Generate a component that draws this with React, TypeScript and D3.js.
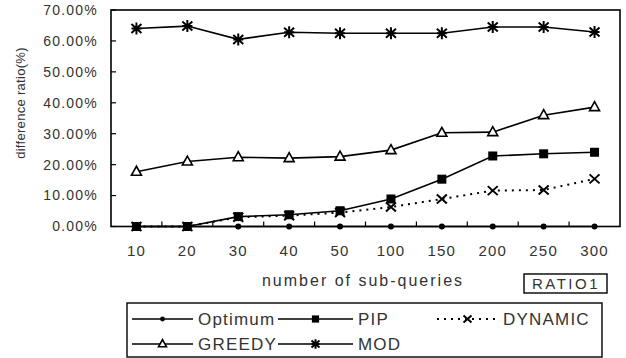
import React from "react";
import * as d3 from "d3";

const categories = ["10", "20", "30", "40", "50", "100", "150", "200", "250", "300"];
const optimum = [0, 0, 0, 0, 0, 0, 0, 0, 0, 0];
const pip = [0, 0, 3.2, 3.8, 5.1, 8.9, 15.3, 22.8, 23.5, 24.0];
const dynamic = [0, 0, 3.0, 3.5, 4.5, 6.3, 8.9, 11.6, 11.8, 15.4];
const greedy = [17.7, 21.0, 22.4, 22.1, 22.6, 24.7, 30.3, 30.5, 36.0, 38.6];
const mod = [64.0, 64.8, 60.5, 62.8, 62.5, 62.5, 62.5, 64.5, 64.5, 62.9];
const yTicks = [0, 10, 20, 30, 40, 50, 60, 70];

const W = 626;
const H = 358;
const left = 111;
const right = 620;
const top = 10;
const bottom = 226.5;

const font = "'Liberation Sans', Arial, sans-serif";
const textColor = "#333";

type MarkerKind = "circle" | "square" | "cross" | "triangle" | "star";

function Marker({ kind, x, y, s = 1 }: { kind: MarkerKind; x: number; y: number; s?: number }) {
  switch (kind) {
    case "circle":
      return <circle cx={x} cy={y} r={3 * s} fill="#000" />;
    case "square":
      return <rect x={x - 4.5 * s} y={y - 4.5 * s} width={9 * s} height={9 * s} fill="#000" />;
    case "cross":
      return (
        <path
          d={`M${x - 5 * s},${y - 4.5 * s}L${x + 5 * s},${y + 4.5 * s}M${x - 5 * s},${y + 4.5 * s}L${x + 5 * s},${y - 4.5 * s}`}
          stroke="#000"
          strokeWidth={2}
          fill="none"
        />
      );
    case "triangle":
      return (
        <path
          d={`M${x},${y - 5.5 * s}L${x + 5 * s},${y + 3.5 * s}L${x - 5 * s},${y + 3.5 * s}Z`}
          stroke="#000"
          strokeWidth={1.6}
          fill="#fff"
        />
      );
    case "star":
      return (
        <path
          d={`M${x - 5 * s},${y - 4.5 * s}L${x + 5 * s},${y + 4.5 * s}M${x - 5 * s},${y + 4.5 * s}L${x + 5 * s},${y - 4.5 * s}M${x},${y - 6 * s}L${x},${y + 6 * s}M${x - 5 * s},${y}L${x + 5 * s},${y}`}
          stroke="#000"
          strokeWidth={2}
          fill="none"
        />
      );
  }
}

const seriesList: { name: string; values: number[]; kind: MarkerKind; dashed: boolean }[] = [
  { name: "Optimum", values: optimum, kind: "circle", dashed: false },
  { name: "PIP", values: pip, kind: "square", dashed: false },
  { name: "DYNAMIC", values: dynamic, kind: "cross", dashed: true },
  { name: "GREEDY", values: greedy, kind: "triangle", dashed: false },
  { name: "MOD", values: mod, kind: "star", dashed: false },
];

export default function App() {
  const x = d3.scalePoint<string>().domain(categories).range([left, right]).padding(0.5);
  const y = d3.scaleLinear().domain([0, 70]).range([bottom, top]);
  const step = x.step();

  const line = (vals: number[]) =>
    d3
      .line<number>()
      .x((_, i) => x(categories[i]) as number)
      .y((v) => y(v))(vals) as string;

  // Legend layout: two rows, three columns
  const legendCols = [132, 278, 437];
  const legendRows = [319, 344];
  const legendPos = [
    { col: 0, row: 0 },
    { col: 1, row: 0 },
    { col: 2, row: 0 },
    { col: 0, row: 1 },
    { col: 1, row: 1 },
  ];
  const lineLen = [61, 75, 61];

  return (
    <svg
      width={W}
      height={H}
      style={{ position: "absolute", left: 0, top: 0, background: "#fff" }}
      fontFamily={font}
    >
      {/* inward y ticks */}
      {yTicks.map((t) => (
        <line key={"yt" + t} x1={left} x2={left + 5} y1={y(t)} y2={y(t)} stroke="#000" strokeWidth={1.2} />
      ))}
      {/* inward x ticks at category boundaries */}
      {categories.slice(1).map((c, i) => {
        const bx = (x(c) as number) - step / 2;
        return <line key={"xt" + i} x1={bx} x2={bx} y1={bottom} y2={bottom - 5} stroke="#000" strokeWidth={1.2} />;
      })}

      {/* series */}
      {seriesList.map((s) => (
        <g key={s.name}>
          <path
            d={line(s.values)}
            fill="none"
            stroke="#000"
            strokeWidth={s.dashed ? 2 : 1.6}
            strokeDasharray={s.dashed ? "2,5" : undefined}
          />
          {s.values.map((v, i) => (
            <Marker key={i} kind={s.kind} x={x(categories[i]) as number} y={y(v)} />
          ))}
        </g>
      ))}

      {/* plot frame */}
      <rect x={left} y={top} width={right - left} height={bottom - top} fill="none" stroke="#000" strokeWidth={1.6} />

      {/* y tick labels */}
      {yTicks.map((t) => (
        <text
          key={"yl" + t}
          x={98}
          y={y(t)}
          dy="0.35em"
          textAnchor="end"
          fontSize={14}
          letterSpacing={1.2}
          fill={textColor}
        >
          {t.toFixed(2) + "%"}
        </text>
      ))}

      {/* x tick labels */}
      {categories.map((c) => (
        <text
          key={"xl" + c}
          x={x(c) as number}
          y={251}
          dy="0.35em"
          textAnchor="middle"
          fontSize={15}
          letterSpacing={1.2}
          fill={textColor}
        >
          {c}
        </text>
      ))}

      {/* axis titles */}
      <text
        transform={`translate(20,103) rotate(-90)`}
        textAnchor="middle"
        dy="0.35em"
        fontSize={13}
        letterSpacing={0.3}
        fill={textColor}
      >
        difference ratio(%)
      </text>
      <text x={363} y={280} dy="0.35em" textAnchor="middle" fontSize={16} letterSpacing={2} fill={textColor}>
        number of sub-queries
      </text>

      {/* RATIO1 tag */}
      <rect x={524} y={274} width={83} height={19} fill="#fff" stroke="#000" strokeWidth={1.4} />
      <text x={566} y={283.5} dy="0.35em" textAnchor="middle" fontSize={15} letterSpacing={2.5} fill={textColor}>
        RATIO1
      </text>

      {/* legend */}
      <rect x={127} y={303} width={475} height={54} fill="#fff" stroke="#000" strokeWidth={1.4} />
      {seriesList.map((s, i) => {
        const p = legendPos[i];
        const x0 = legendCols[p.col];
        const len = lineLen[p.col];
        const ly = legendRows[p.row];
        return (
          <g key={"lg" + s.name}>
            <line
              x1={x0}
              x2={x0 + len}
              y1={ly}
              y2={ly}
              stroke="#000"
              strokeWidth={s.dashed ? 2 : 1.6}
              strokeDasharray={s.dashed ? "2,5" : undefined}
            />
            <Marker kind={s.kind} x={x0 + len / 2} y={ly} s={0.8} />
            <text
              x={x0 + len + 5}
              y={ly}
              dy="0.35em"
              fontSize={17}
              letterSpacing={1.2}
              fill={textColor}
            >
              {s.name}
            </text>
          </g>
        );
      })}
    </svg>
  );
}
